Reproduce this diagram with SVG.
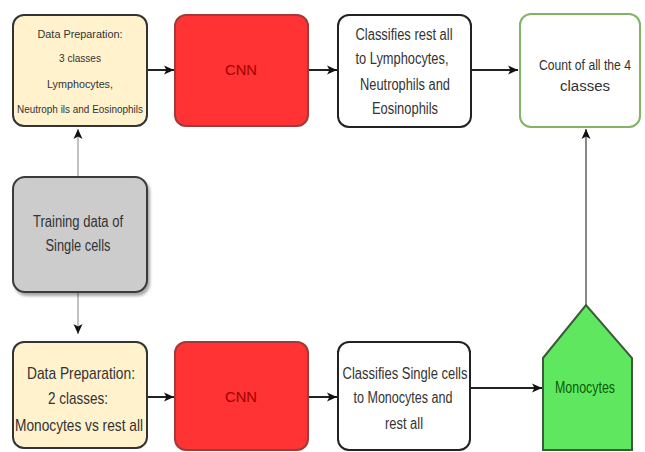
<svg xmlns="http://www.w3.org/2000/svg" width="645" height="452" viewBox="0 0 645 452">
<style>
  text { font-family: "Liberation Sans", Arial, sans-serif; text-anchor: middle; fill: #333333; }
  .sm { font-size: 11px; }
  .md { font-size: 16px; }
  .lg { font-size: 17px; }
  .cream { fill: #fff2cc; stroke: #333333; stroke-width: 2; }
  .cnn { fill: #ff3333; stroke: #a33a3a; stroke-width: 2; }
  .cnnt { fill: #a00000; font-size: 14px; }
  .white { fill: #ffffff; stroke: #222222; stroke-width: 2; }
  .link { stroke: #222222; stroke-width: 2; fill: none; }
  .thin { stroke: #999999; stroke-width: 1.2; fill: none; }
  .grayl { stroke: #888888; stroke-width: 2; fill: none; }
</style>
<defs>
  <marker id="arr" markerUnits="userSpaceOnUse" markerWidth="12" markerHeight="12" viewBox="0 0 12 12" refX="11" refY="6" orient="auto">
    <path d="M1,1.5 L11,6 L1,10.5 L3.5,6 Z" fill="#111111"/>
  </marker>
  <filter id="sh" x="-10%" y="-10%" width="130%" height="130%">
    <feDropShadow dx="2" dy="3" stdDeviation="1.5" flood-color="#000" flood-opacity="0.35"/>
  </filter>
</defs>
<rect width="645" height="452" fill="#ffffff"/>

<g id="connectors">
  <line class="link" x1="147" y1="70" x2="174" y2="70" marker-end="url(#arr)"/>
  <line class="link" x1="308" y1="70" x2="337" y2="70" marker-end="url(#arr)"/>
  <line class="link" x1="472" y1="70" x2="518" y2="70" marker-end="url(#arr)"/>
  <line class="thin" x1="78" y1="177" x2="78" y2="129" marker-end="url(#arr)"/>
  <line class="thin" x1="78" y1="292" x2="78" y2="334" marker-end="url(#arr)"/>
  <line class="link" x1="147" y1="397" x2="174" y2="397" marker-end="url(#arr)"/>
  <line class="link" x1="308" y1="397" x2="337" y2="397" marker-end="url(#arr)"/>
  <line class="link" x1="470" y1="388" x2="542" y2="388" marker-end="url(#arr)"/>
  <line class="grayl" x1="586" y1="305" x2="586" y2="129" marker-end="url(#arr)"/>
</g>

<g id="prep3">
  <rect class="cream" x="13" y="15" width="134" height="111" rx="11"/>
  <text class="sm" x="80" y="38" textLength="85" lengthAdjust="spacingAndGlyphs">Data Preparation:</text>
  <text class="sm" x="80" y="62" textLength="42" lengthAdjust="spacingAndGlyphs">3 classes</text>
  <text class="sm" x="80" y="88" textLength="66" lengthAdjust="spacingAndGlyphs">Lymphocytes,</text>
  <text class="sm" x="80" y="113" textLength="126" lengthAdjust="spacingAndGlyphs">Neutroph ils and Eosinophils</text>
</g>

<g id="cnn1">
  <rect class="cnn" x="175" y="15" width="133" height="111" rx="11"/>
  <text class="cnnt" x="241" y="75" textLength="32" lengthAdjust="spacingAndGlyphs">CNN</text>
</g>

<g id="classify3">
  <rect class="white" x="338" y="15" width="133" height="112" rx="11"/>
  <text class="md" x="404" y="40" textLength="97" lengthAdjust="spacingAndGlyphs">Classifies rest all</text>
  <text class="md" x="402" y="64" textLength="93" lengthAdjust="spacingAndGlyphs">to Lymphocytes,</text>
  <text class="md" x="405" y="90" textLength="90" lengthAdjust="spacingAndGlyphs">Neutrophils and</text>
  <text class="md" x="405" y="114" textLength="66" lengthAdjust="spacingAndGlyphs">Eosinophils</text>
</g>

<g id="count">
  <rect x="520" y="14" width="120" height="113" rx="11" fill="#ffffff" stroke="#82b366" stroke-width="2"/>
  <text x="585" y="70" font-size="14" textLength="92" lengthAdjust="spacingAndGlyphs">Count of all the 4</text>
  <text x="585" y="91" font-size="14" textLength="50" lengthAdjust="spacingAndGlyphs">classes</text>
</g>

<g id="training">
  <rect x="13" y="177" width="134" height="115" rx="12" fill="#cccccc" stroke="#3a3a3a" stroke-width="2" filter="url(#sh)"/>
  <text class="md" x="78" y="227" textLength="90" lengthAdjust="spacingAndGlyphs">Training data of</text>
  <text class="md" x="78" y="251" textLength="65" lengthAdjust="spacingAndGlyphs">Single cells</text>
</g>

<g id="prep2">
  <rect class="cream" x="13" y="342" width="134" height="106" rx="11"/>
  <text class="lg" x="81" y="379" textLength="108" lengthAdjust="spacingAndGlyphs">Data Preparation:</text>
  <text class="lg" x="78" y="404" textLength="60" lengthAdjust="spacingAndGlyphs">2 classes:</text>
  <text class="lg" x="79" y="431" textLength="128" lengthAdjust="spacingAndGlyphs">Monocytes vs rest all</text>
</g>

<g id="cnn2">
  <rect class="cnn" x="175" y="342" width="133" height="108" rx="11"/>
  <text class="cnnt" x="241" y="402" textLength="32" lengthAdjust="spacingAndGlyphs">CNN</text>
</g>

<g id="classify2">
  <rect class="white" x="338" y="342" width="132" height="108" rx="11"/>
  <text class="md" x="405" y="379" textLength="125" lengthAdjust="spacingAndGlyphs">Classifies Single cells</text>
  <text class="md" x="403" y="403" textLength="99" lengthAdjust="spacingAndGlyphs">to Monocytes and</text>
  <text class="md" x="404" y="429" textLength="38" lengthAdjust="spacingAndGlyphs">rest all</text>
</g>

<g id="monocytes">
  <polygon points="543,358 586,305 632,358 632,450 543,450" fill="#5fe85f" stroke="#3a5a3a" stroke-width="2"/>
  <text class="md" x="585" y="393" style="fill:#0a5a0a" textLength="60" lengthAdjust="spacingAndGlyphs">Monocytes</text>
</g>
</svg>
